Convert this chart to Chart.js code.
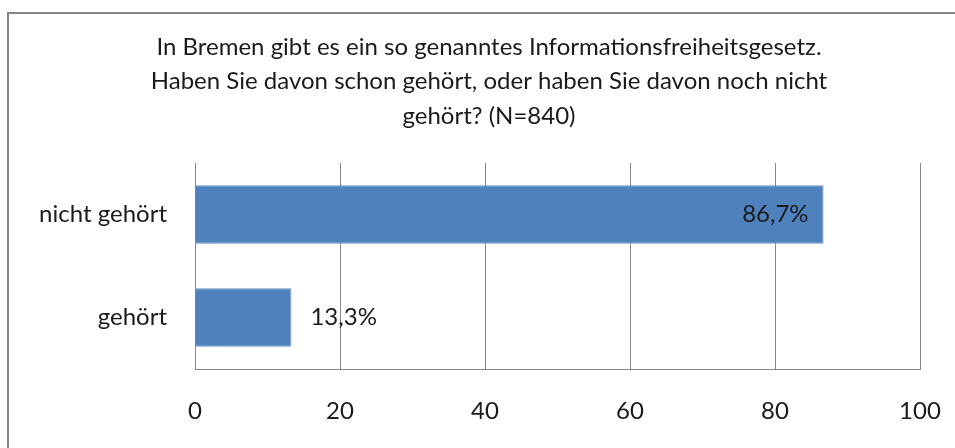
<!DOCTYPE html>
<html>
<head>
<meta charset="utf-8">
<script src="https://cdn.jsdelivr.net/npm/chart.js@4"></script>
<style>
  html, body { margin: 0; padding: 0; background: #fff; }
  #wrap { width: 955px; height: 448px; }
</style>
</head>
<body>
<div id="wrap"><canvas id="grafik" width="955" height="448"></canvas></div>
<script>
var kategorien = ['nicht gehört', 'gehört'];
var werte = [86.7, 13.3];
var werteText = ['86,7%', '13,3%'];
var titelZeilen = [
    'In Bremen gibt es ein so genanntes Informationsfreiheitsgesetz.',
    'Haben Sie davon schon gehört, oder haben Sie davon noch nicht',
    'gehört? (N=840)'
];

var schrift = 'Lato, "Open Sans", sans-serif';

// Rahmen und Titel
var rahmen = {
    id: 'rahmen',
    beforeDraw: function (chart) {
        var c = chart.ctx;
        c.save();
        c.strokeStyle = '#868686';
        c.lineWidth = 2;
        c.strokeRect(8, 13, 960, 450);
        c.font = '24px ' + schrift;
        c.fillStyle = '#1a1a1a';
        c.textAlign = 'center';
        c.textBaseline = 'middle';
        titelZeilen.forEach(function (z, i) {
            c.fillText(z, 489, 47 + i * 34.5);
        });
        c.restore();
    }
};

// Datenbeschriftungen an den Balken
var beschriftung = {
    id: 'beschriftung',
    afterDatasetsDraw: function (chart) {
        var c = chart.ctx;
        var meta = chart.getDatasetMeta(0);
        c.save();
        c.font = '24px ' + schrift;
        c.fillStyle = '#1a1a1a';
        c.textBaseline = 'middle';
        meta.data.forEach(function (bar, i) {
            if (werte[i] > 50) {
                c.textAlign = 'right';
                c.fillText(werteText[i], bar.x - 15, bar.y);
            } else {
                c.textAlign = 'left';
                c.fillText(werteText[i], bar.x + 19, bar.y);
            }
        });
        c.restore();
    }
};

var ctx = document.getElementById('grafik').getContext('2d');
var myChart = new Chart(ctx, {
    type: 'bar',
    data: {
        labels: kategorien,
        datasets: [{
            data: werte,
            backgroundColor: '#4F81BD',
            borderColor: '#6A96CB',
            borderWidth: 1,
            categoryPercentage: 1,
            barPercentage: 0.57
        }]
    },
    plugins: [rahmen, beschriftung],
    options: {
        indexAxis: 'y',
        responsive: false,
        animation: false,
        layout: { padding: { top: 163, left: 15, right: 35, bottom: 0 } },
        plugins: {
            legend: { display: false },
            tooltip: { enabled: false },
            title: { display: false }
        },
        scales: {
            x: {
                min: 0,
                max: 100,
                ticks: {
                    stepSize: 20,
                    color: '#1a1a1a',
                    padding: 28,
                    font: { family: schrift, size: 24 }
                },
                grid: { color: '#868686', drawTicks: false },
                border: { display: true, color: '#868686' },
                afterFit: function (s) {
                    s.height = 79;
                    s.paddingLeft = 0;
                    s.paddingRight = 0;
                }
            },
            y: {
                ticks: {
                    color: '#1a1a1a',
                    padding: 28,
                    font: { family: schrift, size: 24 }
                },
                grid: { display: false, drawTicks: false },
                border: { display: true, color: '#868686' },
                afterFit: function (s) {
                    s.width = 180;
                    s.paddingTop = 0;
                    s.paddingBottom = 0;
                }
            }
        }
    }
});
</script>
</body>
</html>
